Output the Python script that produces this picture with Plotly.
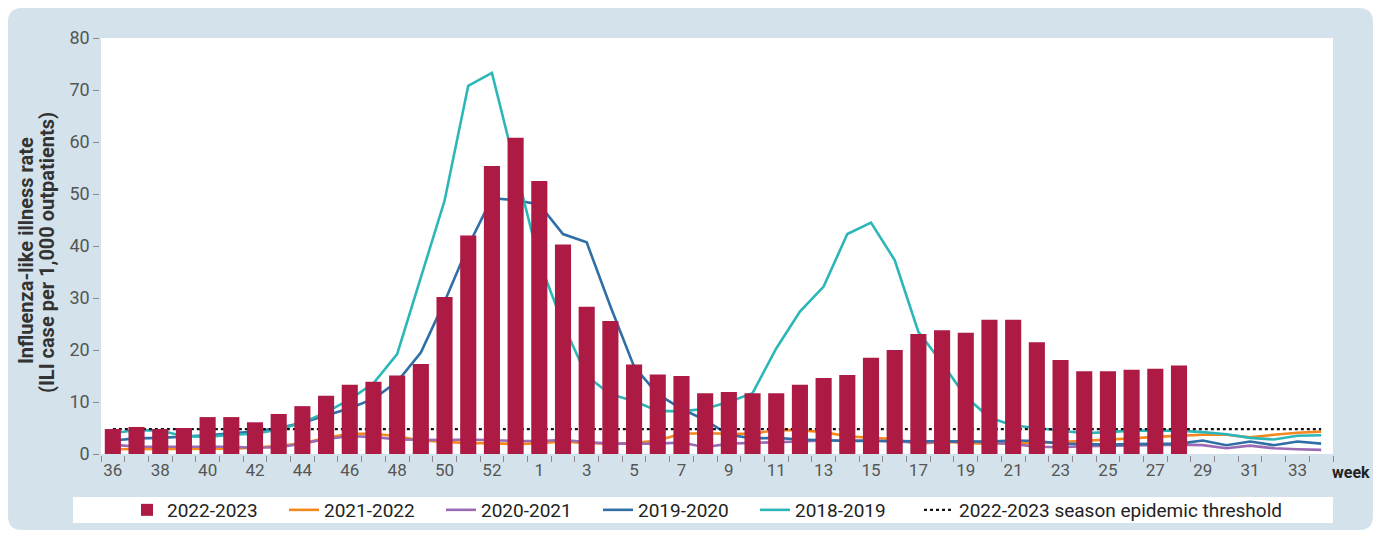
import plotly.graph_objects as go

# ---------------- data ----------------
weeks = ["36", "37", "38", "39", "40", "41", "42", "43", "44", "45", "46", "47",
         "48", "49", "50", "51", "52", "53", "1", "2", "3", "4", "5", "6", "7",
         "8", "9", "10", "11", "12", "13", "14", "15", "16", "17", "18", "19",
         "20", "21", "22", "23", "24", "25", "26", "27", "28", "29", "30", "31",
         "32", "33", "34"]

season_2022_2023 = [4.8, 5.2, 4.8, 5.0, 7.1, 7.1, 6.1, 7.7, 9.2, 11.2, 13.3, 13.9,
                    15.1, 17.3, 30.2, 42.0, 55.4, 60.8, 52.5, 40.3, 28.3, 25.6, 17.2,
                    15.3, 15.0, 11.7, 11.9, 11.7, 11.7, 13.3, 14.6, 15.2, 18.5, 20.0,
                    23.1, 23.8, 23.3, 25.8, 25.8, 21.5, 18.1, 15.9, 15.9, 16.2, 16.4,
                    17.0]

season_2021_2022 = [0.9, 0.9, 1.0, 1.0, 1.0, 1.0, 1.2, 1.6, 2.0, 3.1, 3.9, 3.9,
                    3.4, 2.6, 2.3, 2.1, 2.1, 1.9, 2.1, 2.4, 2.1, 2.0, 2.1, 2.6,
                    3.9, 4.0, 3.9, 3.9, 4.6, 4.6, 4.2, 3.4, 3.1, 2.9, 1.9, 2.4,
                    2.1, 2.0, 2.1, 2.1, 2.3, 2.5, 2.7, 3.0, 3.3, 3.5, 3.7, 3.7,
                    3.2, 3.7, 4.1, 4.3]

season_2020_2021 = [1.8, 1.4, 1.4, 1.4, 1.5, 1.4, 1.2, 1.3, 2.0, 2.9, 3.4, 3.3,
                    2.8, 2.7, 2.7, 2.8, 2.6, 2.5, 2.5, 2.7, 2.3, 2.0, 2.0, 2.0,
                    2.2, 1.3, 2.0, 2.1, 2.2, 2.4, 2.6, 2.6, 2.6, 2.4, 2.2, 2.3,
                    2.4, 2.2, 1.9, 1.4, 1.3, 1.5, 1.6, 1.7, 1.8, 1.8, 1.7, 1.1,
                    1.6, 1.1, 0.9, 0.8]

season_2019_2020 = [2.6, 3.0, 3.1, 3.3, 3.6, 4.0, 4.3, 5.0, 6.0, 7.4, 8.8, 10.6,
                    13.9, 19.5, 29.3, 40.0, 49.2, 48.8, 48.0, 42.3, 40.7, 28.4, 16.8,
                    11.5, 8.7, 6.5, 3.7, 3.0, 3.1, 2.8, 2.6, 2.5, 2.5, 2.5, 2.4,
                    2.5, 2.5, 2.4, 2.6, 2.5, 2.0, 1.9, 1.8, 1.9, 2.0, 2.0, 2.6,
                    1.7, 2.4, 1.7, 2.4, 2.0]

season_2018_2019 = [4.0, 4.6, 4.5, 3.4, 3.3, 3.7, 3.9, 4.7, 6.0, 8.0, 10.5, 13.6,
                    19.2, 34.0, 48.7, 70.8, 73.3, 55.0, 37.0, 25.0, 15.0, 11.5, 10.2,
                    8.3, 8.2, 8.7, 10.0, 11.7, 20.3, 27.4, 32.2, 42.3, 44.5, 37.3,
                    23.5, 17.5, 11.0, 7.0, 5.5, 5.0, 4.5, 4.0, 4.2, 4.5, 4.5, 4.5,
                    4.2, 3.8, 3.1, 2.8, 3.5, 3.6]

epidemic_threshold = [4.8, 4.8, 4.8, 4.8, 4.8, 4.8, 4.8, 4.8, 4.8, 4.8, 4.8, 4.8,
                      4.8, 4.8, 4.8, 4.8, 4.8, 4.8, 4.8, 4.8, 4.8, 4.8, 4.8, 4.8,
                      4.8, 4.8, 4.8, 4.8, 4.8, 4.8, 4.8, 4.8, 4.8, 4.8, 4.8, 4.8,
                      4.8, 4.8, 4.8, 4.8, 4.8, 4.8, 4.8, 4.8, 4.8, 4.8, 4.8, 4.8,
                      4.8, 4.8, 4.8, 4.8]

tick_text = [w if i % 2 == 0 else "" for i, w in enumerate(weeks)]

y_title_line1 = "Influenza-like illness rate"
y_title_line2 = "(ILI case per 1,000 outpatients)"

# ---------------- styles ----------------
BAR_COLOR = "#AD1A43"
ORANGE = "#F5871F"
PURPLE = "#9A6AB4"
BLUE = "#2F6FA6"
TEAL = "#2DB6B8"
BG_BLUE = "#D4E3EB"
AXIS_GREY = "#8A8A8A"
FONT = "Roboto, 'Liberation Sans', sans-serif"

fig = go.Figure()

fig.add_trace(go.Bar(
    x=weeks[:len(season_2022_2023)], y=season_2022_2023, name="2022-2023",
    marker=dict(color=BAR_COLOR, line=dict(width=0)), zorder=2,
))

line_series = [
    ("2021-2022", season_2021_2022, ORANGE),
    ("2020-2021", season_2020_2021, PURPLE),
    ("2019-2020", season_2019_2020, BLUE),
    ("2018-2019", season_2018_2019, TEAL),
]
for name, vals, col in line_series:
    fig.add_trace(go.Scatter(
        x=weeks, y=vals, name=name, mode="lines",
        line=dict(color=col, width=2.6), zorder=0,
    ))

fig.add_trace(go.Scatter(
    x=weeks, y=epidemic_threshold, name="2022-2023 season epidemic threshold",
    mode="lines", line=dict(color="#111111", width=2.2, dash="dot"), zorder=0,
    legend="legend2",
))

# ---------------- geometry (page px -> figure, page has 8px body margin) ----
OFF = 8
W, H = 1381 - 2 * OFF, 538 - 2 * OFF
ml, mr, mt, mb = 101 - OFF, 1381 - OFF - 1333, 38 - OFF, 538 - OFF - 454
pw, ph = W - ml - mr, H - mt - mb


def px_x(px):
    return (px - OFF - ml) / pw


def px_y(py):
    return (H - mb - (py - OFF)) / ph


def rounded_rect(x0, y0, x1, y1, r):
    X0, X1 = px_x(x0), px_x(x1)
    Y0, Y1 = px_y(y0), px_y(y1)
    rx, ry = r / pw, r / ph
    return (f"M {X0 + rx},{Y0} L {X1 - rx},{Y0} Q {X1},{Y0} {X1},{Y0 - ry} "
            f"L {X1},{Y1 + ry} Q {X1},{Y1} {X1 - rx},{Y1} "
            f"L {X0 + rx},{Y1} Q {X0},{Y1} {X0},{Y1 + ry} "
            f"L {X0},{Y0 - ry} Q {X0},{Y0} {X0 + rx},{Y0} Z")


shapes = [
    dict(type="path", xref="paper", yref="paper", layer="below",
         path=rounded_rect(8, 8, 1373, 530, 14),
         fillcolor=BG_BLUE, line=dict(width=0)),
    dict(type="rect", xref="paper", yref="paper", layer="below",
         x0=0, x1=1, y0=0, y1=1, fillcolor="white", line=dict(width=0)),
    dict(type="rect", xref="paper", yref="paper", layer="below",
         x0=px_x(73), x1=px_x(1333), y0=px_y(523), y1=px_y(497),
         fillcolor="white", line=dict(width=0)),
]

legend_font = dict(family=FONT, size=19, color="#222222")

fig.update_layout(
    width=W, height=H,
    margin=dict(l=ml, r=mr, t=mt, b=mb, autoexpand=False),
    paper_bgcolor="white", plot_bgcolor="rgba(0,0,0,0)",
    font=dict(family=FONT, color="#555555"),
    bargap=0.32,
    shapes=shapes,
    showlegend=True,
    legend=dict(
        orientation="h", x=px_x(127), xanchor="left",
        y=px_y(510), yanchor="middle",
        bgcolor="rgba(0,0,0,0)", font=legend_font,
        entrywidth=112, entrywidthmode="pixels",
        itemwidth=30, traceorder="normal",
    ),
    legend2=dict(
        orientation="h", x=px_x(919), xanchor="left",
        y=px_y(510), yanchor="middle",
        bgcolor="rgba(0,0,0,0)", font=legend_font, itemwidth=30,
    ),
    xaxis=dict(
        type="category", range=[-0.5, len(weeks) - 0.5],
        tickmode="array", tickvals=weeks, ticktext=tick_text, tickangle=0,
        tickson="boundaries", ticks="outside", ticklen=6, tickwidth=1.2,
        tickcolor=AXIS_GREY, showline=True, linecolor=AXIS_GREY, linewidth=1.5,
        showgrid=False, zeroline=False,
        tickfont=dict(family=FONT, size=17, color="#555555"),
    ),
    yaxis=dict(
        range=[0, 80], dtick=10, tick0=0,
        ticks="outside", ticklen=6, tickwidth=1.2, tickcolor=AXIS_GREY,
        showline=True, linecolor=AXIS_GREY, linewidth=1.5,
        showgrid=False, zeroline=False,
        tickfont=dict(family=FONT, size=18, color="#555555"),
    ),
    annotations=[
        dict(text=y_title_line1, xref="paper", yref="paper", textangle=-90,
             x=px_x(26), y=px_y(251), xanchor="center", yanchor="middle",
             showarrow=False,
             font=dict(family=FONT, size=20, color="#333333", weight="bold")),
        dict(text=y_title_line2, xref="paper", yref="paper", textangle=-90,
             x=px_x(47), y=px_y(253), xanchor="center", yanchor="middle",
             showarrow=False,
             font=dict(family=FONT, size=20, color="#333333", weight="bold")),
        dict(text="week", xref="paper", yref="paper",
             x=px_x(1372), y=px_y(472), xanchor="right", yanchor="middle",
             showarrow=False,
             font=dict(family=FONT, size=16, color="#222222", weight="bold")),
    ],
)

fig.write_html("out.html")
